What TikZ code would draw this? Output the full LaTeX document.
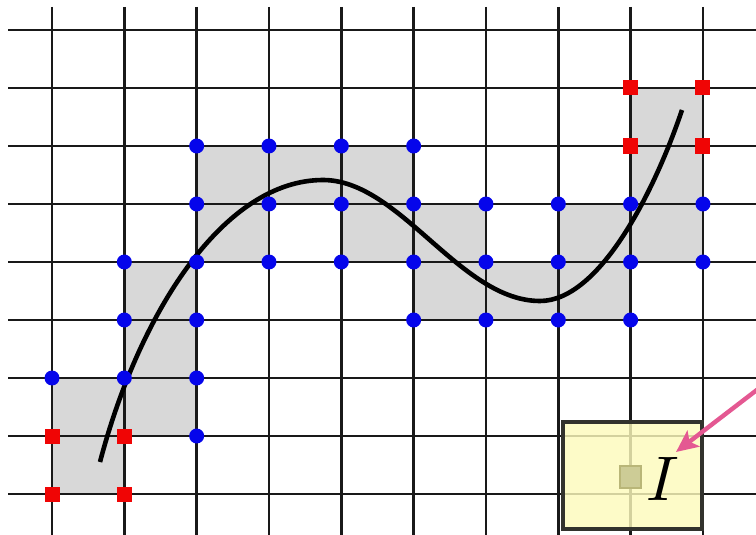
\documentclass[tikz,border=0pt]{standalone}
\usepackage{graphicx}
\usetikzlibrary{arrows.meta}
\definecolor{cellgray}{RGB}{216,216,216}
\definecolor{dotblue}{RGB}{5,5,235}
\definecolor{sqred}{RGB}{240,5,5}
\definecolor{boxyellow}{RGB}{253,250,188}
\definecolor{boxborder}{RGB}{50,50,45}
\definecolor{smallfill}{RGB}{205,204,150}
\definecolor{smalldraw}{RGB}{185,182,120}
\definecolor{arrowpink}{RGB}{228,88,146}
\begin{document}
\begin{tikzpicture}[x=1pt,y=-1pt,
  gridline/.style={line width=2.8pt, black!90},
  cellfill/.style={fill=cellgray},
  bdot/.style={circle, fill=dotblue, inner sep=0pt, minimum size=15pt},
  rsq/.style={rectangle, fill=sqred, inner sep=0pt, minimum size=15pt},
  curveline/.style={line width=4.6pt, black},
  ybox/.style={draw=boxborder, line width=3.5pt, fill=boxyellow, fill opacity=0.82, inner sep=0pt, minimum width=139pt, minimum height=107pt},
  smallsq/.style={draw=smalldraw, line width=2.2pt, fill=smallfill, inner sep=0pt, minimum width=21pt, minimum height=22pt},
  pinkarrow/.style={draw=arrowpink, line width=4.4pt, -{Stealth[length=22pt,width=20pt,inset=5pt]}}
]
\useasboundingbox (0,0) rectangle (756,535);
\def\dx{72.33}
\def\dy{58}
% grey cells
\foreach \c/\r in {0/7,0/6,1/6,1/5,1/4,2/3,2/2,3/2,4/2,4/3,5/3,5/4,6/4,7/4,7/3,8/3,8/2,8/1}
  \fill[cellfill] ({52+\dx*\c},{30+\dy*\r}) rectangle ({52+\dx*(\c+1)},{30+\dy*(\r+1)});
% grid
\foreach \k in {0,...,8}
  \draw[gridline] (8,{30+\dy*\k}) -- (756,{30+\dy*\k});
\foreach \k in {0,...,9}
  \draw[gridline] ({52+\dx*\k},7) -- ({52+\dx*\k},535);
% curve
\draw[curveline] (100,462) .. controls (140,310) and (225,180) .. (323,180)
  .. controls (400,180) and (460,301) .. (540,301)
  .. controls (600,301) and (655,190) .. (682,110);
% blue dots
\foreach \c/\r in {2/2,3/2,4/2,5/2,
                   2/3,3/3,4/3,5/3,6/3,7/3,8/3,9/3,
                   1/4,2/4,3/4,4/4,5/4,6/4,7/4,8/4,9/4,
                   1/5,2/5,5/5,6/5,7/5,8/5,
                   0/6,1/6,2/6,
                   2/7}
  \node[bdot] (b-\c-\r) at ({52+\dx*\c},{30+\dy*\r}) {};
% red squares
\foreach \c/\r in {0/7,1/7,0/8,1/8,8/1,9/1,8/2,9/2}
  \node[rsq] (r-\c-\r) at ({52+\dx*\c},{30+\dy*\r}) {};
% yellow box
\node[ybox] (box) at (632.5,475.5) {};
\node[smallsq] (px) at (630.5,477) {};
\node (I) at (663,479) {\scalebox{6.3}{$I$}};
% arrow
\coordinate (astart) at (762,386);
\coordinate (atip) at (676,452);
\draw[pinkarrow] (astart) -- (atip);
\end{tikzpicture}
\end{document}
